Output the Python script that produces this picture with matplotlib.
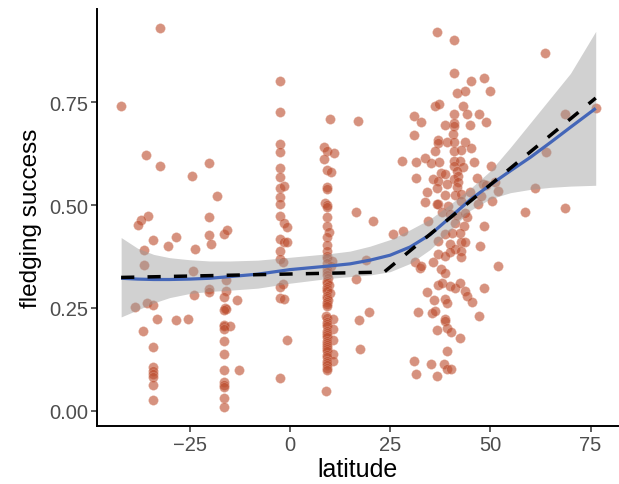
import matplotlib
matplotlib.use("Agg")
import matplotlib.pyplot as plt
import numpy as np

# ---- data: scatter points (latitude, fledging success) ----
lat_south = [-42.1, -32.3, -35.8, -32.4, -35.4, -37.1, -37.9, -34.2, -36.5, -36.5, -38.7, -35.6,
             -34.2, -33.1, -36.7, -34.2, -34.2, -34.2, -34.2, -34.2, -34.2, -34.2,
             -30.4, -28.3, -28.3, -25.4, -24.3, -23.6, -24.2, -23.8,
             -20.2, -20.2, -20.2, -19.6, -20.2, -20.2, -18.1,
             -16.5, -15.6, -15.9, -15.9, -16.5, -16.2, -15.9, -16.5, -16.5, -16.5, -14.9, -16.5,
             -16.5, -16.5, -16.5, -16.5, -16.5, -16.5, -16.5, -16.5, -13.1, -12.8]
suc_south = [0.741, 0.930, 0.621, 0.594, 0.473, 0.464, 0.451, 0.414, 0.390, 0.355, 0.252, 0.261,
             0.257, 0.224, 0.194, 0.155, 0.107, 0.097, 0.089, 0.081, 0.063, 0.026,
             0.401, 0.423, 0.220, 0.223, 0.571, 0.394, 0.340, 0.282,
             0.601, 0.470, 0.428, 0.406, 0.297, 0.288, 0.521,
             0.429, 0.440, 0.318, 0.292, 0.276, 0.250, 0.247, 0.245, 0.209, 0.205, 0.207, 0.198,
             0.169, 0.139, 0.099, 0.071, 0.063, 0.057, 0.030, 0.008, 0.270, 0.099]

lat_equator = [-2.5, -2.5, -2.5, -2.5, -2.5, -2.5, -2.5, -1.4, -2.5, -2.5, -2.5, -1.4, -0.8,
               -2.5, -1.4, -0.8, -2.5, -2.5, -1.7, -1.7, -2.5, -2.5, -1.4, -0.6, -2.5]
suc_equator = [0.802, 0.727, 0.648, 0.629, 0.591, 0.567, 0.541, 0.547, 0.519, 0.503, 0.474, 0.456, 0.446,
               0.417, 0.410, 0.409, 0.389, 0.369, 0.362, 0.308, 0.300, 0.273, 0.271, 0.172, 0.080]

lat_nine = [10.1, 8.5, 9.2, 11.1, 8.5, 9.2, 10.2, 9.2, 9.2, 8.7, 9.2, 9.2, 9.2, 9.2, 9.8, 9.2,
            9.2, 9.2, 9.2, 9.2, 10.5, 9.2, 10.2, 9.2, 9.2, 9.2, 9.6, 9.2, 9.2, 9.8, 9.2, 9.2,
            9.2, 10.1, 9.2, 9.2, 9.6, 9.2, 9.2, 9.2, 9.0, 9.2, 10.8, 9.2, 9.2, 9.2, 10.8, 9.2,
            9.2, 9.2, 9.2, 10.8, 9.2, 9.2, 9.2, 9.2, 9.2, 9.2, 10.8, 9.2, 9.2, 10.8, 9.2, 9.2,
            9.2, 9.2, 9.2, 9.0]
suc_nine = [0.709, 0.642, 0.632, 0.627, 0.612, 0.586, 0.581, 0.545, 0.540, 0.505, 0.500, 0.496,
            0.470, 0.448, 0.434, 0.423, 0.403, 0.389, 0.377, 0.372, 0.365, 0.358, 0.352, 0.345,
            0.337, 0.330, 0.322, 0.315, 0.310, 0.305, 0.300, 0.295, 0.290, 0.285, 0.280, 0.275,
            0.270, 0.265, 0.260, 0.254, 0.231, 0.225, 0.222, 0.215, 0.210, 0.205, 0.199, 0.195,
            0.190, 0.185, 0.180, 0.172, 0.170, 0.165, 0.160, 0.155, 0.150, 0.145, 0.138, 0.135,
            0.130, 0.122, 0.120, 0.115, 0.110, 0.105, 0.100, 0.047]

lat_mid = [17.1, 16.6, 20.8, 19.1, 16.6, 17.3, 19.7, 17.5]
suc_mid = [0.705, 0.484, 0.462, 0.366, 0.320, 0.221, 0.239, 0.151]

lat_north = [36.7, 41.0, 41.0, 45.3, 48.5, 49.9, 41.6, 43.6, 36.2, 37.2, 43.2, 31.0, 32.8, 41.0,
             44.1, 47.1, 49.0, 41.0, 41.0, 38.8, 44.9, 40.7, 31.0, 37.0, 37.0, 39.1, 41.0, 43.8,
             36.3, 41.0, 42.8, 45.3, 27.9, 31.4, 33.7, 35.1, 37.2, 41.0, 42.4, 41.0, 43.3, 45.9,
             50.1, 37.8, 38.7, 41.6, 42.0, 31.4, 35.7, 37.0, 41.0, 42.0, 46.6, 51.1, 36.7, 39.1,
             41.6, 34.2, 38.6, 41.1, 42.8, 44.9, 48.2, 52.0, 33.7, 37.0, 39.5, 42.8, 47.0, 50.3,
             44.1, 38.0, 40.0, 41.7, 43.8, 34.5, 28.3, 25.8, 41.1, 43.5, 38.7, 40.4, 42.4, 48.5,
             37.0, 39.9, 42.8, 43.6, 41.1, 42.8, 39.9, 37.0, 38.7, 42.8, 47.4, 52.0, 31.2, 32.4,
             32.8, 35.6, 37.8, 38.7, 37.0, 37.9, 40.0, 41.2, 42.4, 43.6, 44.3, 45.5, 48.5, 34.2,
             36.0, 38.6, 39.1, 32.0, 35.5, 36.3, 38.6, 38.8, 47.1, 36.7, 39.1, 40.1, 42.4, 39.1,
             30.9, 31.4, 35.2, 38.5, 39.1, 40.1, 36.6, 48.9, 47.8, 36.6]
suc_north = [0.920, 0.902, 0.822, 0.802, 0.808, 0.778, 0.772, 0.777, 0.741, 0.745, 0.741, 0.717, 0.702, 0.722,
             0.722, 0.722, 0.702, 0.700, 0.692, 0.694, 0.694, 0.673, 0.669, 0.658, 0.650, 0.652, 0.652, 0.652,
             0.632, 0.632, 0.633, 0.638, 0.608, 0.604, 0.614, 0.602, 0.604, 0.608, 0.608, 0.596, 0.593, 0.604,
             0.596, 0.579, 0.575, 0.583, 0.571, 0.565, 0.563, 0.559, 0.563, 0.557, 0.565, 0.555, 0.541, 0.551,
             0.543, 0.532, 0.524, 0.524, 0.528, 0.532, 0.551, 0.535, 0.508, 0.502, 0.498, 0.510, 0.502, 0.510,
             0.470, 0.482, 0.478, 0.475, 0.480, 0.462, 0.437, 0.429, 0.457, 0.448, 0.429, 0.431, 0.433, 0.449,
             0.413, 0.405, 0.409, 0.411, 0.393, 0.389, 0.385, 0.381, 0.377, 0.373, 0.401, 0.351, 0.361, 0.347,
             0.352, 0.361, 0.344, 0.336, 0.305, 0.310, 0.303, 0.298, 0.311, 0.292, 0.279, 0.265, 0.298, 0.288,
             0.268, 0.272, 0.263, 0.241, 0.237, 0.242, 0.223, 0.217, 0.231, 0.196, 0.200, 0.192, 0.178, 0.146,
             0.122, 0.089, 0.113, 0.113, 0.101, 0.101, 0.085, 0.549, 0.522, 0.502]

lat_far = [63.6, 68.6, 76.3, 63.8, 61.1, 58.6, 68.6]
suc_far = [0.869, 0.722, 0.735, 0.628, 0.541, 0.482, 0.492]

# ---- loess smooth with confidence band ----
smooth_lat = [-42.1, -38, -34, -30, -25, -20, -15, -8, 0, 10, 15, 20, 25, 30, 35, 40, 45, 50, 55, 60, 65, 70, 76.3]
smooth_fit = [0.322, 0.320, 0.319, 0.319, 0.320, 0.322, 0.326, 0.332, 0.343, 0.352, 0.357, 0.366, 0.378,
              0.398, 0.428, 0.470, 0.513, 0.549, 0.583, 0.616, 0.652, 0.689, 0.735]
smooth_lo = [0.228, 0.245, 0.262, 0.275, 0.285, 0.290, 0.293, 0.298, 0.310, 0.322, 0.326, 0.330, 0.338,
             0.358, 0.392, 0.438, 0.487, 0.515, 0.530, 0.538, 0.543, 0.546, 0.548]
smooth_hi = [0.421, 0.395, 0.380, 0.372, 0.367, 0.364, 0.364, 0.366, 0.373, 0.382, 0.388, 0.400, 0.416,
             0.440, 0.466, 0.502, 0.540, 0.583, 0.640, 0.700, 0.760, 0.820, 0.922]

# ---- segmented (breakpoint) fit ----
seg_lat = [-42.1, 23.5, 76.3]
seg_fit = [0.324, 0.337, 0.760]

lat = lat_south + lat_equator + lat_nine + lat_mid + lat_north + lat_far
suc = suc_south + suc_equator + suc_nine + suc_mid + suc_north + suc_far

plt.rcParams['font.family'] = ['Liberation Sans', 'DejaVu Sans']
fig = plt.figure(figsize=(6.19, 4.85), dpi=100)
ax = fig.add_axes([0.1575, 0.1205, 0.8405, 0.8585])

ax.scatter(lat, suc, s=48, color='#BD4F30', alpha=0.62, edgecolors='#E9B5A5', linewidths=0.3, zorder=2)
ax.fill_between(smooth_lat, smooth_lo, smooth_hi, color='#999999', alpha=0.45, linewidth=0, zorder=3)
ax.plot(smooth_lat, smooth_fit, color='#4466B8', linewidth=2.3, zorder=4, solid_capstyle='butt')
ax.plot(seg_lat, seg_fit, color='black', linewidth=2.5, dashes=(3.8, 3.8), zorder=5)

ax.set_xlim(-48, 81.8)
ax.set_ylim(-0.036, 0.976)
ax.set_xticks([-25, 0, 25, 50, 75])
ax.set_yticks([0, 0.25, 0.5, 0.75])
ax.set_yticklabels(['0.00', '0.25', '0.50', '0.75'])
ax.set_xticklabels(['\u221225', '0', '25', '50', '75'])
for s in ['top', 'right']:
    ax.spines[s].set_visible(False)
for s in ['left', 'bottom']:
    ax.spines[s].set_linewidth(1.4)
    ax.spines[s].set_color('black')
ax.tick_params(axis='both', length=4, width=1.1, color='#333333', labelsize=14.5,
               labelcolor='#4D4D4D', pad=3)
ax.set_xlabel('latitude', fontsize=18, color='black', labelpad=2)
ax.set_ylabel('fledging success', fontsize=17.5, color='black', labelpad=5)

fig.savefig('out.png', dpi=100)
